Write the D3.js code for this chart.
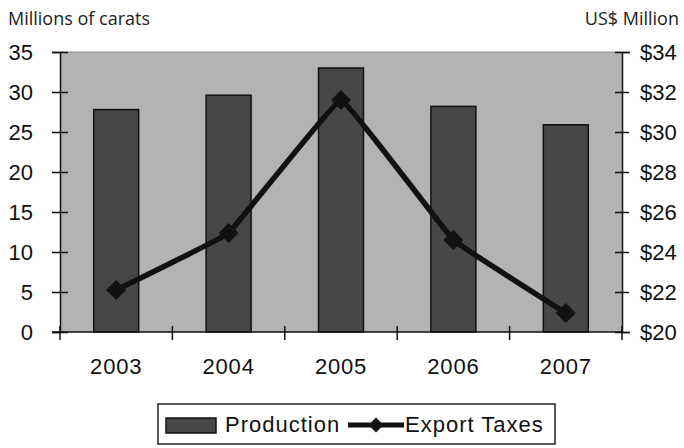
<!DOCTYPE html>
<html>
<head>
<meta charset="utf-8">
<script src="https://cdn.jsdelivr.net/npm/d3@7"></script>
<style>
  body { margin: 0; background: #fff; }
  svg { display: block; }
</style>
</head>
<body>
<svg width="684" height="448"></svg>
<script>
// data
const years = ["2003", "2004", "2005", "2006", "2007"];
const production = [27.8, 29.6, 33.0, 28.2, 25.9];   // millions of carats
const exportTaxes = [22.1, 24.95, 31.6, 24.6, 20.95]; // US$ million
const leftTicks = [0, 5, 10, 15, 20, 25, 30, 35];
const rightTicks = [20, 22, 24, 26, 28, 30, 32, 34];

const svg = d3.select("svg");
const plot = {left: 60, right: 622, top: 52, bottom: 332};
const chartFont = "'Liberation Sans', Arial, sans-serif";

const x = d3.scaleBand()
    .domain(years)
    .range([plot.left, plot.right]);

const yL = d3.scaleLinear().domain([0, 35]).range([plot.bottom, plot.top]);
const yR = d3.scaleLinear().domain([20, 34]).range([plot.bottom, plot.top]);

// plot background
svg.append("rect")
    .attr("x", plot.left)
    .attr("y", plot.top)
    .attr("width", plot.right - plot.left)
    .attr("height", plot.bottom - plot.top)
    .attr("fill", "#b3b3b3");
svg.append("line")
    .attr("x1", plot.left).attr("x2", plot.right)
    .attr("y1", plot.top).attr("y2", plot.top)
    .attr("stroke", "#8a8a8a").attr("stroke-width", 1);

// bars
const barW = x.bandwidth() * 0.4;
svg.selectAll("rect.bar")
    .data(years)
    .enter()
    .append("rect")
    .attr("class", "bar")
    .attr("x", (d) => x(d) + (x.bandwidth() - barW) / 2)
    .attr("y", (d, i) => yL(production[i]))
    .attr("width", barW)
    .attr("height", (d, i) => yL(0) - yL(production[i]))
    .attr("fill", "#474747")
    .attr("stroke", "#111")
    .attr("stroke-width", 1.5);

// line with diamonds (nearly straight segments)
const pts = years.map((d, i) => [x(d) + x.bandwidth() / 2, yR(exportTaxes[i])]);
const line = d3.line().curve(d3.curveCardinal.tension(0.85));
svg.append("path")
    .attr("d", line(pts))
    .attr("fill", "none")
    .attr("stroke", "#111")
    .attr("stroke-width", 5.5)
    .attr("stroke-linejoin", "round");

svg.selectAll("path.mark")
    .data(pts)
    .enter()
    .append("path")
    .attr("class", "mark")
    .attr("d", d3.symbol(d3.symbolSquare, 200))
    .attr("transform", (d) => `translate(${d[0]},${d[1]}) rotate(45)`)
    .attr("fill", "#111");

// left axis
const axL = svg.append("g")
    .attr("transform", `translate(${plot.left},0)`)
    .call(d3.axisLeft(yL).tickValues(leftTicks).tickSize(8).tickPadding(19));
axL.selectAll(".tick line").attr("x2", -8).attr("x1", 8);

// right axis
const axR = svg.append("g")
    .attr("transform", `translate(${plot.right},0)`)
    .call(d3.axisRight(yR).tickValues(rightTicks).tickFormat((d) => "$" + d).tickSize(8).tickPadding(10));
axR.selectAll(".tick line").attr("x1", -7).attr("x2", 7);

// bottom axis: labels centred, ticks on category boundaries
const axB = svg.append("g")
    .attr("transform", `translate(0,${plot.bottom})`)
    .call(d3.axisBottom(x).tickSize(0).tickPadding(26));
axB.select(".domain").attr("d", `M${plot.left - 8},0H${plot.right}`);
axB.selectAll("line.bound")
    .data(years.map((d) => x(d)).concat([plot.right]))
    .enter()
    .append("line")
    .attr("class", "bound")
    .attr("x1", (d) => d).attr("x2", (d) => d)
    .attr("y1", -6).attr("y2", 8)
    .attr("stroke", "#111");

[axL, axR, axB].forEach((g) => {
    g.select(".domain").attr("stroke", "#111").attr("stroke-width", 1.5);
    g.selectAll(".tick line").attr("stroke", "#111").attr("stroke-width", 1.5);
    g.selectAll("line.bound").attr("stroke-width", 1.5);
    g.selectAll("text")
        .attr("font-family", chartFont)
        .attr("font-size", 22)
        .attr("fill", "#111");
});
axB.selectAll("text").attr("letter-spacing", 0.8);

// axis titles
svg.append("text")
    .attr("x", 8).attr("y", 25)
    .attr("font-family", "'Open Sans', sans-serif")
    .attr("font-size", 18)
    .attr("fill", "#222")
    .text("Millions of carats");
svg.append("text")
    .attr("x", 679).attr("y", 25)
    .attr("text-anchor", "end")
    .attr("font-family", "'Open Sans', sans-serif")
    .attr("font-size", 18)
    .attr("fill", "#222")
    .text("US$ Million");

// legend
const lg = svg.append("g");
lg.append("rect")
    .attr("x", 158).attr("y", 404)
    .attr("width", 397).attr("height", 40)
    .attr("fill", "#fff")
    .attr("stroke", "#222").attr("stroke-width", 1.5);
lg.append("rect")
    .attr("x", 166).attr("y", 418)
    .attr("width", 50).attr("height", 15)
    .attr("fill", "#474747")
    .attr("stroke", "#111").attr("stroke-width", 1.5);
lg.append("text")
    .attr("x", 225).attr("y", 432)
    .text("Production");
lg.append("line")
    .attr("x1", 348).attr("x2", 404)
    .attr("y1", 425).attr("y2", 425)
    .attr("stroke", "#111").attr("stroke-width", 5);
lg.append("path")
    .attr("d", d3.symbol(d3.symbolSquare, 110))
    .attr("transform", "translate(376,425) rotate(45)")
    .attr("fill", "#111");
lg.append("text")
    .attr("x", 405).attr("y", 432)
    .text("Export Taxes");
lg.selectAll("text")
    .attr("font-family", chartFont)
    .attr("font-size", 22)
    .attr("letter-spacing", 1)
    .attr("fill", "#111");
</script>
</body>
</html>
